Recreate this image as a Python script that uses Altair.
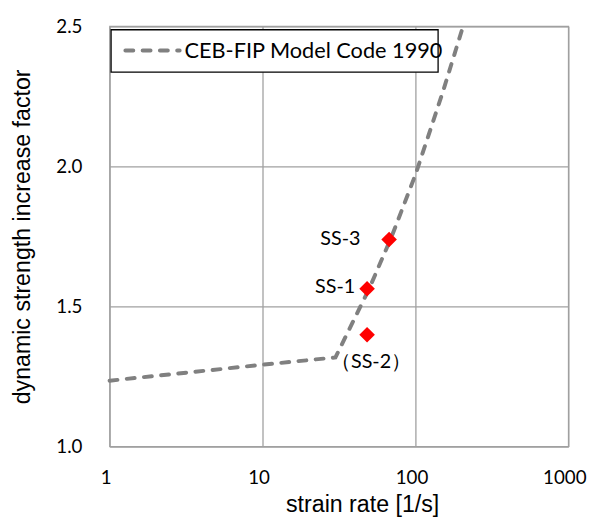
import altair as alt
import pandas as pd

series_name = "CEB-FIP Model Code 1990"
model_rate = [1, 10, 30, 50, 70, 100, 150, 205]
model_dif = [1.235, 1.292, 1.318, 1.565, 1.75, 1.97, 2.26, 2.5]

test_labels = ["SS-1", "（SS-2）", "SS-3"]
test_rate = [48.3, 48.3, 67.3]
test_dif = [1.563, 1.399, 1.739]

x_ticks = [1, 10, 100, 1000]
y_ticks = [1.0, 1.5, 2.0, 2.5]

model_df = pd.DataFrame({"rate": model_rate, "dif": model_dif})
test_df = pd.DataFrame({"rate": test_rate, "dif": test_dif, "label": test_labels})
legend_df = pd.DataFrame({"series": [series_name]})

GRID = "#a0a0a0"
LINE = "#808080"
LABEL_FONT = "Lato"
TITLE_FONT = "Liberation Sans"
DASH = [8, 9.5]

x_scale = alt.Scale(type="log", domain=[1, 1000], nice=False)
y_scale = alt.Scale(domain=[1.0, 2.5], nice=False, zero=False)

x_enc = alt.X(
    "rate:Q",
    scale=x_scale,
    axis=alt.Axis(
        title="strain rate [1/s]",
        values=x_ticks,
        format="d",
        grid=True,
        gridColor=GRID,
        gridWidth=1.3,
        domain=False,
        ticks=False,
        tickSize=0,
        labelPadding=22,
        labelOffset=-4,
        labelFont=LABEL_FONT,
        labelFontSize=19,
        labelColor="#000000",
        labelBaseline="top",
        labelFlush=False,
        titleFont=TITLE_FONT,
        titleFontSize=23.5,
        titleFontWeight="normal",
        titleColor="#000000",
        titleX=256,
        titleY=66,
        titleBaseline="alphabetic",
        titleAlign="center",
    ),
)
y_enc = alt.Y(
    "dif:Q",
    scale=y_scale,
    axis=alt.Axis(
        title="dynamic strength increase factor",
        values=y_ticks,
        format=".1f",
        grid=True,
        gridColor=GRID,
        gridWidth=1.3,
        domain=False,
        ticks=False,
        tickSize=0,
        labelPadding=28,
        labelFont=LABEL_FONT,
        labelFontSize=19,
        labelColor="#000000",
        labelFlush=False,
        titleFont=TITLE_FONT,
        titleFontSize=23.5,
        titleFontWeight="normal",
        titleColor="#000000",
        titleAngle=270,
        titleX=-81,
        titleY=213,
        titleBaseline="alphabetic",
        titleAlign="center",
    ),
)

line = alt.Chart(model_df).mark_line(
    strokeWidth=4, strokeDash=DASH, strokeCap="round", color=LINE
).encode(x=x_enc, y=y_enc)

points = alt.Chart(test_df).mark_point(
    shape="diamond", filled=True, color="#ff0000", size=250, opacity=1
).encode(x="rate:Q", y="dif:Q")

def label_layer(name, **kw):
    return alt.Chart(test_df).transform_filter(
        alt.datum.label == name
    ).mark_text(font=LABEL_FONT, fontSize=20, color="#000000", **kw).encode(
        x="rate:Q", y="dif:Q", text="label:N"
    )

t1 = label_layer("SS-1", align="right", baseline="middle", dx=-12, dy=-2)
t2 = label_layer("（SS-2）", align="center", baseline="middle", dx=4, dy=28)
t3 = label_layer("SS-3", align="right", baseline="middle", dx=-29, dy=0)

# legend (box, dashed sample, label)
leg_box = alt.Chart(legend_df).mark_rect(
    fill="#ffffff", stroke="#000000", strokeWidth=1.3
).encode(x=alt.value(1.5), x2=alt.value(333), y=alt.value(3.5), y2=alt.value(46.5))
leg_line = alt.Chart(legend_df).mark_rule(
    color=LINE, strokeWidth=4, strokeDash=DASH, strokeCap="round"
).encode(x=alt.value(16), x2=alt.value(71), y=alt.value(24.5))
leg_text = alt.Chart(legend_df).mark_text(
    font=LABEL_FONT, fontSize=22, color="#000000", align="left", baseline="middle"
).encode(x=alt.value(76), y=alt.value(25), text="series:N")

chart = alt.layer(line, points, t1, t2, t3, leg_box, leg_line, leg_text).properties(
    width=465,
    height=426,
    autosize=alt.AutoSizeParams(type="none"),
    padding={"left": 103, "top": 15, "right": 23, "bottom": 75},
).configure_view(
    stroke=GRID, strokeWidth=1.3
)

chart.save("out.html", embed_options={"renderer": "svg", "actions": False})
